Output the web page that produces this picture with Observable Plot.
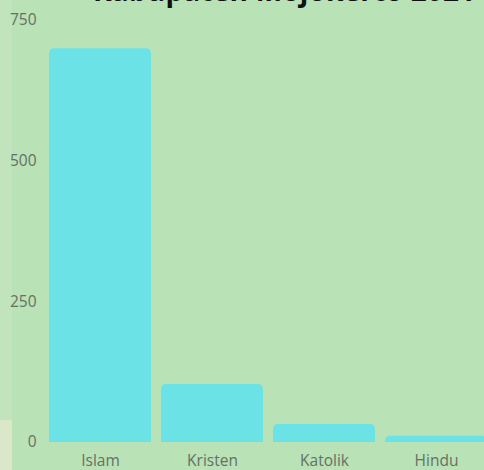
<!DOCTYPE html>
<html>
<head>
<meta charset="utf-8">
<script src="https://cdn.jsdelivr.net/npm/d3@7"></script>
<script src="https://cdn.jsdelivr.net/npm/@observablehq/plot@0.6"></script>
<style>
  html, body { margin: 0; padding: 0; overflow: hidden; background: #b9e2b6; }
  #wrap { position: relative; width: 484px; height: 470px; overflow: hidden; background: #b9e2b6; }
  #strip { position: absolute; left: 0; top: 0; width: 12px; height: 420px; background: #c2e4bd; }
  #corner { position: absolute; left: 0; top: 420px; width: 12px; height: 50px; background: #dbe7c9; }
  #title { position: absolute; left: 93px; top: -29px; font: bold 28px "Open Sans", sans-serif; color: #111; white-space: nowrap; letter-spacing: 0.2px; }
  #chart { position: absolute; left: 0; top: 0; }
</style>
</head>
<body>
<div id="wrap">
  <div id="strip"></div>
  <div id="corner"></div>
  <div id="chart"></div>
  <div id="title">Kabupaten Mojokerto 2021</div>
</div>
<script>
const categories = ["Islam", "Kristen", "Katolik", "Hindu"];
const values = [700, 103, 32, 11];
const yTicks = [0, 250, 500, 750];

const data = categories.map((c, i) => ({category: c, value: values[i]}));

const chart = Plot.plot({
  width: 484,
  height: 470,
  marginTop: 20,
  marginBottom: 28,
  marginLeft: 48,
  marginRight: -3,
  style: {background: "transparent", fontFamily: "'Open Sans', sans-serif", fontSize: "15.5px", color: "#677066"},
  x: {domain: categories, paddingInner: 0.09, paddingOuter: 0, label: null, tickSize: 0, tickPadding: 12},
  y: {domain: [0, 750], ticks: yTicks, label: null, tickSize: 0, tickPadding: 12},
  marks: [
    Plot.barY(data, {x: "category", y: "value", fill: "#6be3e6", rx: 5, insetBottom: -8, clip: true})
  ]
});
document.getElementById("chart").appendChild(chart);
</script>
</body>
</html>
